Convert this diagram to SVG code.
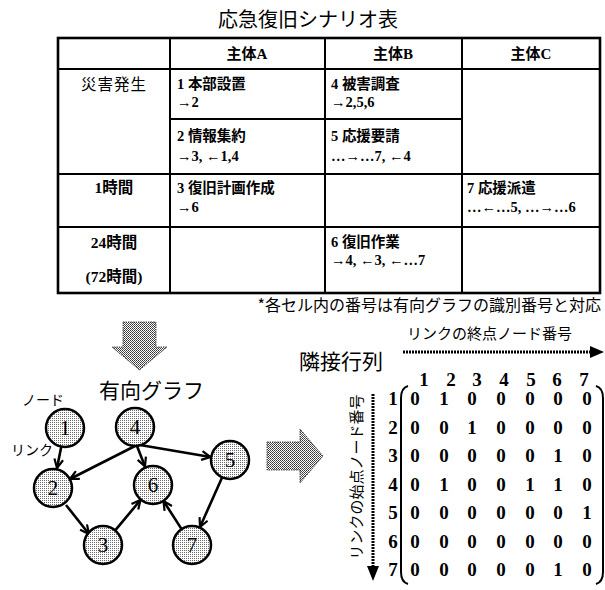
<svg xmlns="http://www.w3.org/2000/svg" width="605" height="590" viewBox="0 0 605 590">
<style>
.title{font-family:"Noto Sans CJK JP","Liberation Sans",sans-serif;font-size:20px;fill:#000}
.hd{font-family:"Liberation Serif","Noto Sans CJK JP",serif;font-size:15px;font-weight:bold;text-anchor:middle}
.cell{font-family:"Liberation Serif","Noto Sans CJK JP",serif;font-size:14.5px;font-weight:bold}
.lab{font-family:"Liberation Serif","Noto Sans CJK JP",serif;font-size:15.5px;font-weight:bold;text-anchor:middle}
.lab.reg{font-weight:normal}
.note{font-family:"Noto Sans CJK JP",sans-serif;font-size:16px;text-anchor:end}
.big{font-family:"Noto Sans CJK JP",sans-serif;font-size:21px}
.small{font-family:"Noto Sans CJK JP",sans-serif;font-size:14px}
.axis{font-family:"Noto Sans CJK JP",sans-serif;font-size:15px}
.num{font-family:"Liberation Serif",serif;font-size:19px;font-weight:bold;text-anchor:middle}
.nodec{fill:url(#dots);stroke:#000;stroke-width:2.5}
.nodet{font-family:"Liberation Serif",serif;font-size:21px;text-anchor:middle}
.grid{stroke:#000;stroke-width:2;fill:none}
.edge{stroke:#000;stroke-width:2.6;fill:none;marker-end:url(#ah)}
.bigarrow{fill:url(#stip);stroke:#444;stroke-width:1;stroke-dasharray:1.5 1}
.dotline{stroke:#000;stroke-width:3;stroke-dasharray:2 1}
.paren{fill:none;stroke:#000;stroke-width:2}
</style>
<defs>
<pattern id="dots" width="2" height="2" patternUnits="userSpaceOnUse"><rect width="2" height="2" fill="#fff"/><rect width="1" height="1" fill="#6a6a6a"/></pattern>
<pattern id="stip" width="2" height="2" patternUnits="userSpaceOnUse"><rect width="2" height="2" fill="#fff"/><rect width="1" height="1" fill="#333"/><rect x="1" y="1" width="1" height="1" fill="#555"/></pattern>
<marker id="ah" viewBox="0 0 10 10" refX="9" refY="5" markerWidth="11" markerHeight="11" markerUnits="userSpaceOnUse" orient="auto"><path d="M1,1 L9,5 L1,9" fill="none" stroke="#000" stroke-width="2"/></marker>
</defs>

<text class="title" x="308" y="27" text-anchor="middle">応急復旧シナリオ表</text>

<g id="table">
<rect x="58" y="38" width="542" height="255" fill="none" stroke="#000" stroke-width="2.6"/>
<line class="grid" x1="170" y1="38" x2="170" y2="293"/>
<line class="grid" x1="325" y1="38" x2="325" y2="293"/>
<line class="grid" x1="462" y1="38" x2="462" y2="293"/>
<line class="grid" x1="58" y1="69" x2="600" y2="69"/>
<line class="grid" x1="170" y1="119" x2="462" y2="119"/>
<line class="grid" x1="58" y1="174" x2="600" y2="174"/>
<line class="grid" x1="58" y1="227" x2="600" y2="227"/>
<text class="hd" x="247" y="59">主体A</text>
<text class="hd" x="393" y="59">主体B</text>
<text class="hd" x="531" y="59">主体C</text>
<text class="lab reg" x="114" y="90" letter-spacing="1">災害発生</text>
<text class="lab" x="114" y="193">1時間</text>
<text class="lab" x="114" y="248">24時間</text>
<text class="lab" x="114" y="282">(72時間)</text>
<text class="cell" x="177" y="89">1 本部設置</text>
<text class="cell" x="177" y="107">→2</text>
<text class="cell" x="331" y="89">4 被害調査</text>
<text class="cell" x="331" y="107">→2,5,6</text>
<text class="cell" x="177" y="141">2 情報集約</text>
<text class="cell" x="177" y="161">→3, ←1,4</text>
<text class="cell" x="331" y="141">5 応援要請</text>
<text class="cell" x="331" y="161">…→…7, ←4</text>
<text class="cell" x="177" y="193">3 復旧計画作成</text>
<text class="cell" x="177" y="212">→6</text>
<text class="cell" x="467" y="193">7 応援派遣</text>
<text class="cell" x="467" y="212">…←…5, …→…6</text>
<text class="cell" x="331" y="247">6 復旧作業</text>
<text class="cell" x="331" y="265">→4, ←3, ←…7</text>
</g>

<text class="note" x="601" y="311">*各セル内の番号は有向グラフの識別番号と対応</text>

<polygon class="bigarrow" points="123,322 156,322 156,347 167,347 139.5,370 112,347 123,347"/>
<polygon class="bigarrow" points="267,442 300,442 300,429 323,456 300,483 300,470 267,470"/>

<text class="big" x="99" y="398">有向グラフ</text>
<text class="small" x="22" y="405">ノード</text>
<text class="small" x="11" y="455">リンク</text>

<g id="connectors">
<line class="edge" x1="61.3" y1="446.6" x2="57" y2="468"/>
<line class="edge" x1="135" y1="446" x2="70" y2="479"/>
<line class="edge" x1="137" y1="446" x2="145" y2="466.5"/>
<line class="edge" x1="140" y1="445" x2="210.5" y2="457"/>
<line class="edge" x1="66" y1="505" x2="89" y2="534"/>
<line class="edge" x1="115.2" y1="530.4" x2="140.5" y2="500"/>
<line class="edge" x1="222.2" y1="477.3" x2="200" y2="527"/>
<line class="edge" x1="181.6" y1="529.1" x2="163.5" y2="501"/>
</g>

<g id="n1"><circle class="nodec" cx="65" cy="428" r="19"/><text class="nodet" x="65" y="435">1</text></g>
<g id="n2"><circle class="nodec" cx="53" cy="488" r="19"/><text class="nodet" x="53" y="495">2</text></g>
<g id="n3"><circle class="nodec" cx="103" cy="545" r="19"/><text class="nodet" x="103" y="552">3</text></g>
<g id="n4"><circle class="nodec" cx="135" cy="427" r="19"/><text class="nodet" x="135" y="434">4</text></g>
<g id="n5"><circle class="nodec" cx="230" cy="460" r="19"/><text class="nodet" x="230" y="467">5</text></g>
<g id="n6"><circle class="nodec" cx="153" cy="485" r="19"/><text class="nodet" x="153" y="492">6</text></g>
<g id="n7"><circle class="nodec" cx="192" cy="545" r="19"/><text class="nodet" x="192" y="552">7</text></g>

<g id="matrix">
<text class="big" x="299" y="369" font-size="22">隣接行列</text>
<text class="axis" x="407" y="339">リンクの終点ノード番号</text>
<line class="dotline" x1="403" y1="352" x2="592" y2="352"/>
<polygon points="590,346 604,352 590,358" fill="#000"/>
<text class="axis" transform="translate(362,477) rotate(-90)" text-anchor="middle">リンクの始点ノード番号</text>
<line class="dotline" x1="373" y1="394" x2="373" y2="568"/>
<polygon points="367,566 379,566 373,581" fill="#000"/>
<g class="num">
<text x="424" y="386">1</text><text x="451" y="386">2</text><text x="477" y="386">3</text><text x="504" y="386">4</text><text x="531" y="386">5</text><text x="557" y="386">6</text><text x="584" y="386">7</text>
<text x="393" y="405">1</text><text x="393" y="433.5">2</text><text x="393" y="462">3</text><text x="393" y="490.5">4</text><text x="393" y="519">5</text><text x="393" y="547.5">6</text><text x="393" y="576">7</text>
<text x="415" y="405">0</text><text x="444" y="405">1</text><text x="472" y="405">0</text><text x="501" y="405">0</text><text x="530" y="405">0</text><text x="558" y="405">0</text><text x="587" y="405">0</text>
<text x="415" y="433.5">0</text><text x="444" y="433.5">0</text><text x="472" y="433.5">1</text><text x="501" y="433.5">0</text><text x="530" y="433.5">0</text><text x="558" y="433.5">0</text><text x="587" y="433.5">0</text>
<text x="415" y="462">0</text><text x="444" y="462">0</text><text x="472" y="462">0</text><text x="501" y="462">0</text><text x="530" y="462">0</text><text x="558" y="462">1</text><text x="587" y="462">0</text>
<text x="415" y="490.5">0</text><text x="444" y="490.5">1</text><text x="472" y="490.5">0</text><text x="501" y="490.5">0</text><text x="530" y="490.5">1</text><text x="558" y="490.5">1</text><text x="587" y="490.5">0</text>
<text x="415" y="519">0</text><text x="444" y="519">0</text><text x="472" y="519">0</text><text x="501" y="519">0</text><text x="530" y="519">0</text><text x="558" y="519">0</text><text x="587" y="519">1</text>
<text x="415" y="547.5">0</text><text x="444" y="547.5">0</text><text x="472" y="547.5">0</text><text x="501" y="547.5">0</text><text x="530" y="547.5">0</text><text x="558" y="547.5">0</text><text x="587" y="547.5">0</text>
<text x="415" y="576">0</text><text x="444" y="576">0</text><text x="472" y="576">0</text><text x="501" y="576">0</text><text x="530" y="576">0</text><text x="558" y="576">1</text><text x="587" y="576">0</text>
</g>
<path class="paren" d="M408,386 Q401,388 401,398 L401,572 Q401,582 408,584"/>
<path class="paren" d="M596,386 Q603,388 603,398 L603,572 Q603,582 596,584"/>
</g>
</svg>
